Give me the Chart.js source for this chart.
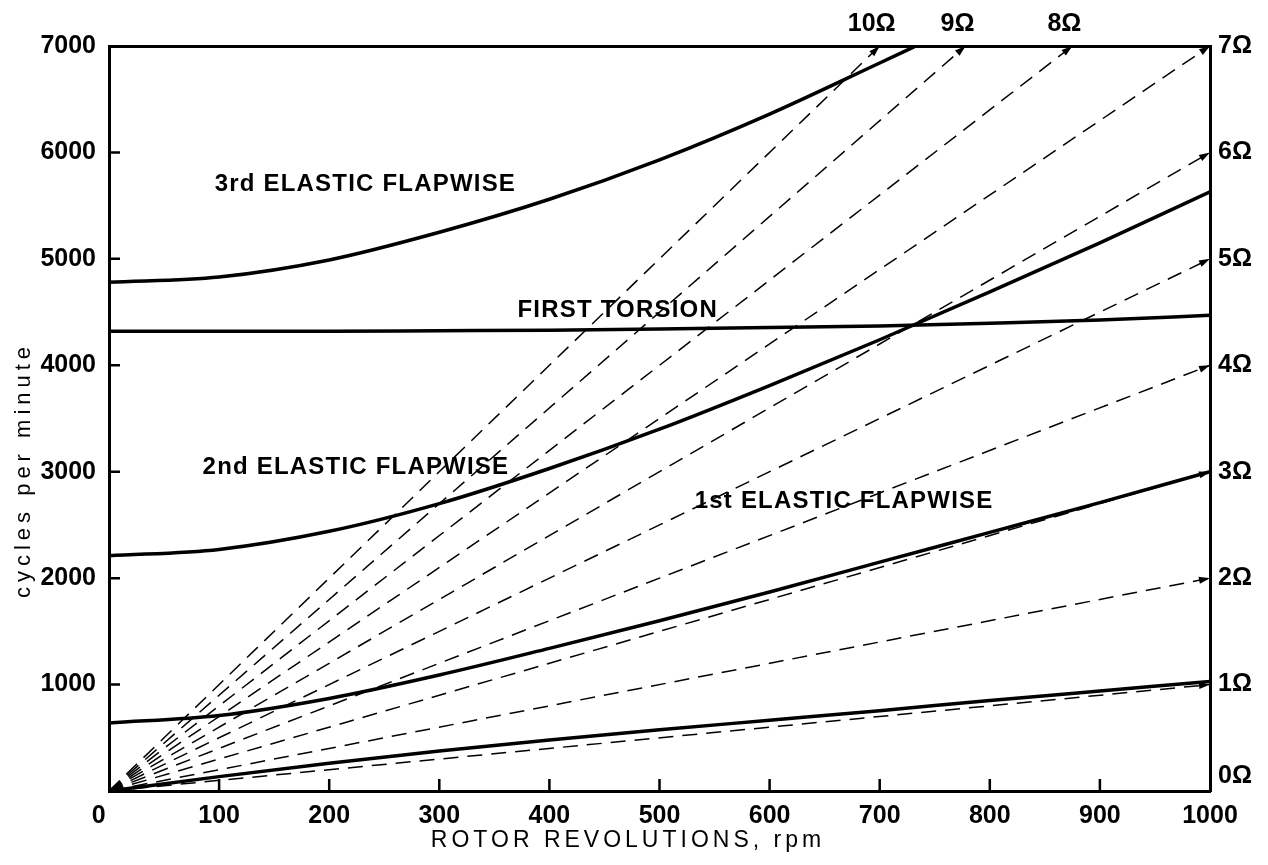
<!DOCTYPE html>
<html>
<head>
<meta charset="utf-8">
<script src="https://cdn.jsdelivr.net/npm/chart.js@4"></script>
<style>
  html, body { margin: 0; padding: 0; background: #fff; }
  #wrap { width: 1268px; height: 865px; }
</style>
</head>
<body>
<div id="wrap"><canvas id="chart" width="1268" height="865"></canvas></div>
<script>
// rotor speed sample points, rpm
const rpm = [0, 100, 200, 300, 400, 500, 600, 700, 800, 900, 1000];

// natural frequencies, cycles per minute
const lowestMode = [0, 135, 260, 375, 480, 575, 665, 755, 850, 940, 1030];
const elastic1 = [640, 710, 870, 1090, 1340, 1600, 1870, 2150, 2430, 2710, 3000];
const elastic2 = [2210, 2270, 2440, 2700, 3030, 3400, 3810, 4240, 4690, 5150, 5630];
const torsion = [4320, 4320, 4320, 4325, 4330, 4340, 4355, 4370, 4395, 4425, 4470];
// 3rd flap runs off the top of the plot near 733 rpm
const rpm3 = [0, 100, 200, 300, 400, 500, 600, 700, 733];
const elastic3 = [4780, 4830, 4990, 5250, 5560, 5930, 6360, 6840, 7000];

// per-rev lines (n times rotor speed) and where they hit the frame
const harmonics = [1, 2, 3, 4, 5, 6, 7, 8, 9, 10];
const rayEndRpm = [1000, 1000, 1000, 1000, 1000, 1000, 1000, 875, 778, 700];
const rayEndCpm = [1000, 2000, 3000, 4000, 5000, 6000, 7000, 7000, 7000, 7000];

// tick labels
const xTicks = [0, 100, 200, 300, 400, 500, 600, 700, 800, 900, 1000];
const yTicks = [0, 1000, 2000, 3000, 4000, 5000, 6000, 7000];
const omegaLabels = ['0Ω', '1Ω', '2Ω', '3Ω', '4Ω', '5Ω', '6Ω', '7Ω'];

// curve names, anchored at (rpm, cpm) = left end, middle of text
const curveLabels = [
  { text: '3rd ELASTIC FLAPWISE', rpm: 96, cpm: 5700 },
  { text: 'FIRST TORSION', rpm: 371, cpm: 4520 },
  { text: '2nd ELASTIC FLAPWISE', rpm: 85, cpm: 3045 },
  { text: '1st ELASTIC FLAPWISE', rpm: 532, cpm: 2725 }
];

const FONT = '"Liberation Sans", Arial, Helvetica, sans-serif';

function pts(xs, ys) {
  return xs.map((v, i) => ({ x: v, y: ys[i] }));
}

const solid = (label, data) => ({
  label: label,
  data: data,
  borderColor: '#000',
  borderWidth: 3.5,
  pointRadius: 0,
  cubicInterpolationMode: 'monotone',
  fill: false
});

const datasets = [
  solid('lowest', pts(rpm, lowestMode)),
  solid('1st elastic flapwise', pts(rpm, elastic1)),
  solid('2nd elastic flapwise', pts(rpm, elastic2)),
  solid('first torsion', pts(rpm, torsion)),
  solid('3rd elastic flapwise', pts(rpm3, elastic3))
];

harmonics.forEach((n, i) => {
  datasets.push({
    label: n + 'Ω',
    data: [{ x: 0, y: 0 }, { x: rayEndRpm[i], y: rayEndCpm[i] }],
    borderColor: '#000',
    borderWidth: 1.5,
    borderDash: [15, 9],
    pointRadius: 0,
    fill: false,
    arrow: true,
    harmonic: n
  });
});

const fixSize = (prop, px) => function (scale) { scale[prop] = px; };

const extras = {
  id: 'extras',
  afterDraw(chart) {
    const { ctx, chartArea: a, scales } = chart;
    const x = scales.x, y = scales.y;
    ctx.save();

    // inward tick marks
    ctx.strokeStyle = '#000';
    ctx.lineWidth = 2.5;
    ctx.beginPath();
    yTicks.forEach(v => {
      if (v > 0 && v < 7000) {
        const py = y.getPixelForValue(v);
        ctx.moveTo(a.left, py);
        ctx.lineTo(a.left + 11, py);
      }
    });
    xTicks.forEach(v => {
      if (v > 0 && v < 1000) {
        const px = x.getPixelForValue(v);
        ctx.moveTo(px, a.bottom);
        ctx.lineTo(px, a.bottom - 12);
      }
    });
    ctx.stroke();

    // arrowheads at the end of each per-rev line
    ctx.fillStyle = '#000';
    chart.data.datasets.forEach((ds, i) => {
      if (!ds.arrow) return;
      const el = chart.getDatasetMeta(i).data;
      const p0 = el[el.length - 2], p1 = el[el.length - 1];
      const ang = Math.atan2(p1.y - p0.y, p1.x - p0.x);
      ctx.save();
      ctx.translate(p1.x, p1.y);
      ctx.rotate(ang);
      ctx.beginPath();
      ctx.moveTo(0, 0);
      ctx.lineTo(-11, -3.5);
      ctx.lineTo(-11, 3.5);
      ctx.closePath();
      ctx.fill();
      ctx.restore();
    });

    // labels above the top edge for lines leaving through it
    ctx.font = 'bold 25px ' + FONT;
    ctx.textAlign = 'center';
    ctx.textBaseline = 'middle';
    harmonics.forEach((n, i) => {
      if (rayEndRpm[i] < 1000) {
        ctx.fillText(n + 'Ω', x.getPixelForValue(rayEndRpm[i]) - 8, a.top - 22);
      }
    });

    // curve names
    ctx.font = 'bold 24px ' + FONT;
    ctx.letterSpacing = '1.2px';
    ctx.textAlign = 'left';
    curveLabels.forEach(l => {
      ctx.fillText(l.text, x.getPixelForValue(l.rpm), y.getPixelForValue(l.cpm));
    });

    // axis titles
    ctx.font = '23px ' + FONT;
    ctx.letterSpacing = '4px';
    ctx.textAlign = 'center';
    ctx.fillText('ROTOR REVOLUTIONS, rpm', 628, 841);
    ctx.translate(24, 470);
    ctx.rotate(-Math.PI / 2);
    ctx.font = '22px ' + FONT;
    ctx.letterSpacing = '5px';
    ctx.fillText('cycles per minute', 0, 0);
    ctx.restore();
  }
};

new Chart(document.getElementById('chart'), {
  type: 'line',
  data: { datasets: datasets },
  options: {
    responsive: false,
    animation: false,
    events: [],
    layout: { padding: 0 },
    plugins: { legend: { display: false }, tooltip: { enabled: false } },
    scales: {
      x: {
        type: 'linear', position: 'bottom', min: 0, max: 1000,
        afterBuildTicks: s => { s.ticks = xTicks.map(v => ({ value: v })); },
        afterFit: fixSize('height', 74),
        grid: { display: false, drawTicks: false },
        border: { display: true, width: 3, color: '#000' },
        ticks: {
          autoSkip: false, maxRotation: 0, padding: 10, color: '#000',
          font: { family: FONT, size: 25, weight: 'bold' },
          callback: v => (v === 0 ? '0   ' : String(v))
        }
      },
      xTop: {
        type: 'linear', position: 'top', min: 0, max: 1000,
        afterFit: fixSize('height', 46),
        grid: { display: false, drawTicks: false },
        border: { display: true, width: 3, color: '#000' },
        ticks: { display: false }
      },
      y: {
        type: 'linear', position: 'left', min: 0, max: 7000,
        afterBuildTicks: s => { s.ticks = yTicks.map(v => ({ value: v })); },
        afterFit: fixSize('width', 109),
        grid: { display: false, drawTicks: false },
        border: { display: true, width: 3, color: '#000' },
        ticks: {
          padding: 13, color: '#000',
          font: { family: FONT, size: 25, weight: 'bold' },
          callback: v => (v === 0 ? '' : String(v))
        }
      },
      yRight: {
        type: 'linear', position: 'right', min: 0, max: 7000,
        afterBuildTicks: s => { s.ticks = yTicks.map(v => ({ value: v })); },
        afterFit: fixSize('width', 58),
        grid: { display: false, drawTicks: false },
        border: { display: true, width: 3, color: '#000' },
        ticks: {
          padding: 8, color: '#000',
          font: { family: FONT, size: 25, weight: 'bold' },
          callback: (v, i) => (i === 0 ? [omegaLabels[0], ''] : omegaLabels[i])
        }
      }
    }
  },
  plugins: [extras]
});
</script>
</body>
</html>
